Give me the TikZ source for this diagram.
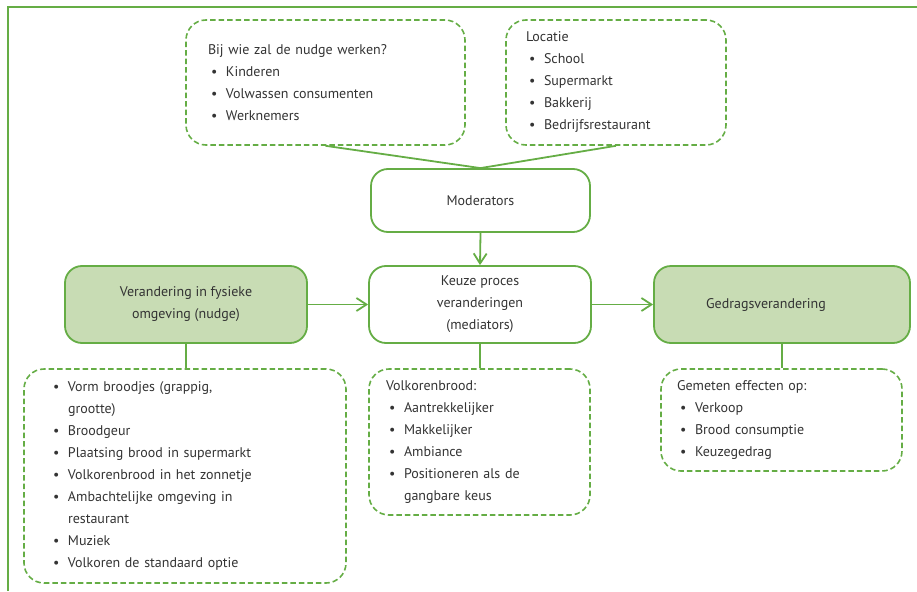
\documentclass[tikz,border=0pt]{standalone}
\usepackage{fontspec}
\setmainfont{PT Sans}
\usetikzlibrary{positioning}
\usetikzlibrary{arrows.meta}

\definecolor{nudgegreen}{RGB}{101,173,69}
\definecolor{nudgefill}{RGB}{200,220,180}
\definecolor{nudgetext}{RGB}{51,51,51}

\newcommand{\itm}[1]{\makebox[18pt][l]{\hspace{3pt}\textbullet}#1}
\newcommand{\cnt}[1]{\hspace*{18pt}#1}

\tikzset{
  mainbox/.style={draw=nudgegreen, line width=1.8pt, rounded corners=17pt, align=center, text=nudgetext, font=\fontsize{14}{22}\selectfont},
  listbox/.style={draw=nudgegreen, line width=1.6pt, dash pattern=on 5.5pt off 3pt, rounded corners=20pt, align=left, text=nudgetext, font=\fontsize{14}{22}\selectfont},
  link/.style={nudgegreen, line width=1.8pt},
  pijl/.style={link, -{Straight Barb[length=10pt,width=13pt,line width=1.8pt]}}
}

\begin{document}
\begin{tikzpicture}[x=1pt,y=-1pt]
\useasboundingbox (0,0) rectangle (917,591);
\draw[link] (8,591) -- (8,7) -- (917,7);

% moderators
\node[listbox, text width=235pt, inner xsep=22pt, minimum height=125pt] (who) at (325.5,82.5) {Bij wie zal de nudge werken?\\ \itm{Kinderen}\\ \itm{Volwassen consumenten}\\ \itm{Werknemers}};
\node[listbox, text width=180pt, inner xsep=20pt, minimum height=125pt] (loc) at (616,82.5) {Locatie\\ \itm{School}\\ \itm{Supermarkt}\\ \itm{Bakkerij}\\ \itm{Bedrijfsrestaurant}};
\node[mainbox, minimum width=219pt, minimum height=63pt] (mod) at (480.5,200.5) {Moderators};

% main row
\node[mainbox, fill=nudgefill, minimum width=242pt, minimum height=77pt] (nudge) at (186,304.5) {Verandering in fysieke\\omgeving (nudge)};
\node[mainbox, minimum width=222pt, minimum height=77pt] (keuze) at (480,304.5) {Keuze proces\\veranderingen\\(mediators)};
\node[mainbox, fill=nudgefill, minimum width=256pt, minimum height=77pt] (gedrag) at (782,304.5) {Gedragsverandering\hspace*{32pt}};

% lists
\node[listbox, text width=270pt, inner xsep=26pt, minimum height=214pt] (vorm) at (185,476) {\itm{Vorm broodjes (grappig,}\\ \cnt{grootte)}\\ \itm{Broodgeur}\\ \itm{Plaatsing brood in supermarkt}\\ \itm{Volkorenbrood in het zonnetje}\\ \itm{Ambachtelijke omgeving in}\\ \cnt{restaurant}\\ \itm{Muziek}\\ \itm{Volkoren de standaard optie}};
\node[listbox, text width=187pt, inner xsep=17pt, minimum height=146pt] (volk) at (479.5,442) {Volkorenbrood:\\ \itm{Aantrekkelijker}\\ \itm{Makkelijker}\\ \itm{Ambiance}\\ \itm{Positioneren als de}\\ \cnt{gangbare keus}};
\node[listbox, text width=209pt, inner xsep=16pt, minimum height=102pt] (effect) at (781.5,420) {Gemeten effecten op:\\ \itm{Verkoop}\\ \itm{Brood consumptie}\\ \itm{Keuzegedrag}};

\draw[link] (who.south) -- (mod.north) -- (loc.south);
\draw[pijl] (mod.south) -- (keuze.north);
\draw[pijl] (nudge.east) -- (keuze.west);
\draw[pijl] (keuze.east) -- (gedrag.west);
\draw[link] (nudge.south) -- (nudge.south |- vorm.north);
\draw[link] (keuze.south) -- (keuze.south |- volk.north);
\draw[link] (gedrag.south) -- (gedrag.south |- effect.north);

\end{tikzpicture}
\end{document}
